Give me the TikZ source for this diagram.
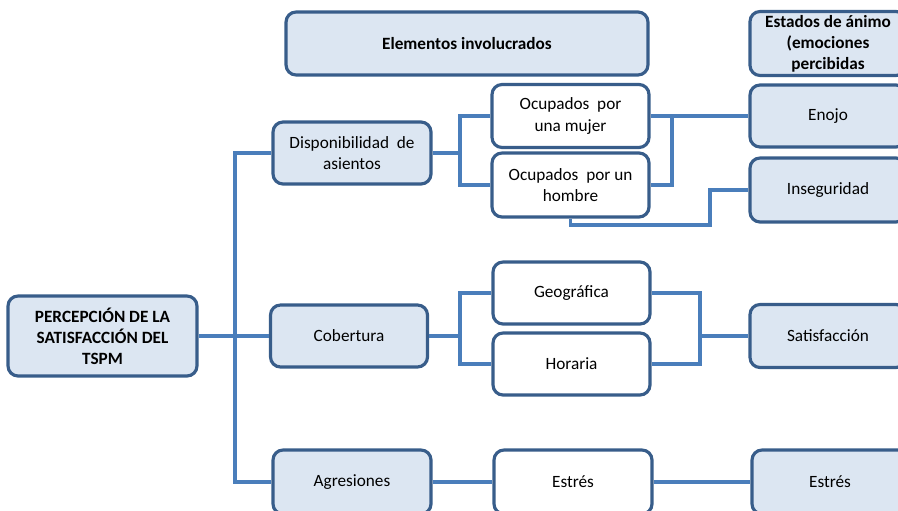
\documentclass[tikz,border=0pt]{standalone}
\usepackage{fontspec}
\setmainfont{Carlito}
\usetikzlibrary{calc}
\definecolor{boxline}{RGB}{56,93,138}
\definecolor{boxfill}{RGB}{220,230,242}
\definecolor{linkline}{RGB}{74,126,187}

\begin{document}
\begin{tikzpicture}[x=0.02cm,y=-0.02cm,
    box/.style={draw=boxline,line width=1.8pt,fill=boxfill,rounded corners=0.2cm,
        align=center,inner sep=2pt,font=\fontsize{9.8}{12.4}\selectfont},
    subbox/.style={box,fill=white},
    headbox/.style={box,font=\fontsize{9.8}{12}\selectfont\bfseries},
    link/.style={linkline,line width=1.8pt}]

% Page frame
\useasboundingbox (0,0) rectangle (898,510);
\clip (0,0) rectangle (898,510);

% Headers
\node[headbox,minimum width=7.24cm,minimum height=1.26cm] (elem) at (467,43.5) {Elementos involucrados};
\node[headbox,minimum width=3.12cm,minimum height=1.26cm] (estados) at (828,43.5) {Estados de ánimo\\(emociones\\percibidas};

% Main node
\node[headbox,minimum width=3.78cm,minimum height=1.6cm] (main) at (102.5,336) {PERCEPCIÓN DE LA\\SATISFACCIÓN DEL\\TSPM};

% Elements
\node[box,minimum width=3.16cm,minimum height=1.24cm] (disp) at (352,153) {Disponibilidad \ de\\asientos};
\node[box,minimum width=3.14cm,minimum height=1.24cm] (cob) at (349,336) {Cobertura};
\node[box,minimum width=3.16cm,minimum height=1.28cm] (agr) at (352,482) {Agresiones};

% Sub elements
\node[subbox,minimum width=3.14cm,minimum height=1.26cm] (mujer) at (570.5,116) {Ocupados \ por\\una mujer};
\node[subbox,minimum width=3.14cm,minimum height=1.28cm] (hombre) at (570.5,185) {Ocupados \ por un\\hombre};
\node[subbox,minimum width=3.14cm,minimum height=1.24cm] (geo) at (571.5,293) {Geográfica};
\node[subbox,minimum width=3.14cm,minimum height=1.24cm] (hor) at (571.5,364) {Horaria};
\node[subbox,minimum width=3.16cm,minimum height=1.28cm] (estres) at (573,482) {Estrés};

% Emotions
\node[box,minimum width=3.12cm,minimum height=1.24cm] (enojo) at (828,116) {Enojo};
\node[box,minimum width=3.12cm,minimum height=1.28cm] (inseg) at (828,190) {Inseguridad};
\node[box,minimum width=3.12cm,minimum height=1.26cm] (sat) at (828,336) {Satisfacción};
\node[box,minimum width=3.12cm,minimum height=1.28cm] (estresb) at (830,482) {Estrés};

% Trunk
\coordinate (trunk) at (235,336);
\draw[link] (main) -- (trunk);
\draw[link] (disp.west) -| (trunk) |- (agr.west);
\draw[link] (trunk) -- (cob.west);

% Seats
\coordinate (b1) at (460,153);
\draw[link] (disp.east) -- (b1);
\draw[link] (mujer.west) -| (b1) |- (hombre.west);
\coordinate (b2) at (672,116);
\draw[link] (mujer.east) -- (enojo.west);
\draw[link] (hombre.east) -| (b2);
\coordinate (k) at (710,225);
\draw[link] (hombre.south) |- (k) |- (inseg.west);

% Coverage
\coordinate (b3) at (460,336);
\draw[link] (cob.east) -- (b3);
\draw[link] (geo.west) -| (b3) |- (hor.west);
\coordinate (b4) at (700,336);
\draw[link] (geo.east) -| (b4) |- (hor.east);
\draw[link] (b4) -- (sat.west);

% Aggression
\draw[link] (agr) -- (estres);
\draw[link] (estres) -- (estresb);

\end{tikzpicture}
\end{document}
